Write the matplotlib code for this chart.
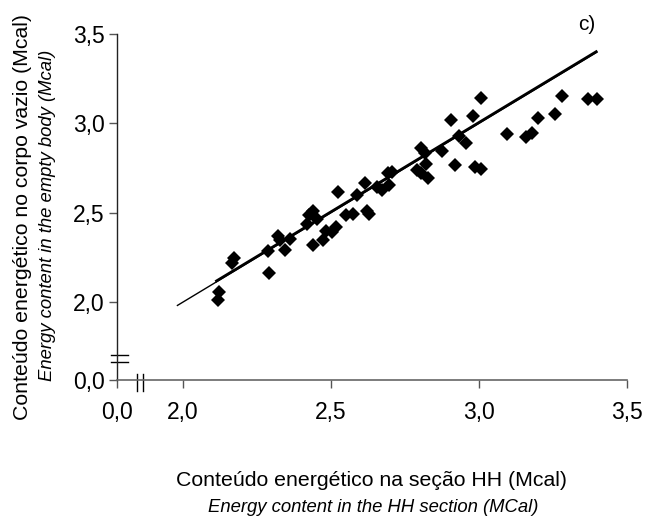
import matplotlib
matplotlib.use("Agg")
import matplotlib.pyplot as plt
from matplotlib.lines import Line2D

plt.rcParams['font.family'] = ['Liberation Sans', 'DejaVu Sans']

# data (Mcal)
hh_section = [2.119, 2.123, 2.166, 2.172, 2.290, 2.288, 2.323, 2.330, 2.344, 2.362,
              2.421, 2.425, 2.439, 2.439, 2.453, 2.474, 2.484, 2.505, 2.519, 2.523,
              2.551, 2.575, 2.589, 2.617, 2.621, 2.628, 2.655, 2.673, 2.697, 2.694,
              2.705, 2.792, 2.804, 2.806, 2.820, 2.818, 2.827, 2.877, 2.905, 2.919,
              2.933, 2.958, 2.979, 2.986, 3.006, 3.006, 3.094, 3.160, 3.178, 3.199,
              3.258, 3.279, 3.370, 3.400]
empty_body = [2.015, 2.056, 2.222, 2.245, 2.166, 2.288, 2.369, 2.350, 2.294, 2.354,
              2.439, 2.486, 2.508, 2.320, 2.467, 2.348, 2.401, 2.395, 2.420, 2.618,
              2.486, 2.495, 2.599, 2.665, 2.508, 2.495, 2.646, 2.627, 2.655, 2.721,
              2.731, 2.740, 2.862, 2.721, 2.772, 2.834, 2.697, 2.844, 3.017, 2.768,
              2.928, 2.891, 3.041, 2.755, 2.744, 3.141, 2.938, 2.923, 2.947, 3.028,
              3.051, 3.151, 3.139, 3.139]

identity_x = [1.98, 3.40]
identity_y = [1.98, 3.40]
fit_x = [2.11, 3.40]
fit_y = [2.115, 3.405]

x_ticks = [1.778, 2.0, 2.5, 3.0, 3.5]
x_ticklabels = ['0,0', '2,0', '2,5', '3,0', '3,5']
y_ticks = [1.565, 2.0, 2.5, 3.0, 3.5]
y_ticklabels = ['0,0', '2,0', '2,5', '3,0', '3,5']

fig = plt.figure(figsize=(6.5, 5.28), dpi=100)
ax = fig.add_axes([0.18, 0.2803, 0.7846, 0.6553])

ax.plot(identity_x, identity_y, color='black', lw=1.0, solid_capstyle='butt')
ax.plot(fit_x, fit_y, color='black', lw=2.0, solid_capstyle='butt')
ax.plot(hh_section, empty_body, linestyle='none', marker='D', markersize=7,
        color='black', markeredgewidth=0)

ax.set_xlim(1.778, 3.5)
ax.set_ylim(1.565, 3.5)
ax.set_xticks(x_ticks)
ax.set_xticklabels(x_ticklabels)
ax.set_yticks(y_ticks)
ax.set_yticklabels(y_ticklabels)

for s in ['top', 'right']:
    ax.spines[s].set_visible(False)
ax.spines['left'].set_color('#222222')
ax.spines['bottom'].set_color('#666666')
ax.spines['left'].set_linewidth(1.0)
ax.spines['bottom'].set_linewidth(1.2)
ax.tick_params(axis='x', direction='out', length=6, width=1.0, color='#555555',
               labelsize=16.5, pad=9)
ax.tick_params(axis='y', direction='out', length=6, width=1.0, color='#555555',
               labelsize=16.5, pad=3)

# axis break marks
tr = ax.transAxes
for yy in [0.072, 0.052]:
    ax.add_line(Line2D([-0.0118, 0.0216], [yy, yy], transform=tr, color='black',
                       lw=1.0, clip_on=False))
for xx in [0.0386, 0.0504]:
    ax.add_line(Line2D([xx, xx], [0.0173, -0.0318], transform=tr, color='black',
                       lw=1.0, clip_on=False))

# axis titles
fig.text(372 / 650, 1 - 480 / 528, 'Conteúdo energético na seção HH (Mcal)',
         ha='center', va='center', fontsize=15.3)
fig.text(373 / 650, 1 - 508 / 528, 'Energy content in the HH section (MCal)',
         ha='center', va='center', fontsize=13.3, style='italic')
fig.text(22.7 / 650, 1 - 217 / 528, 'Conteúdo energético no corpo vazio (Mcal)',
         ha='center', va='center', fontsize=15.3, rotation=90)
fig.text(47.5 / 650, 1 - 215 / 528, 'Energy content in the empty body (Mcal)',
         ha='center', va='center', fontsize=13.3, rotation=90, style='italic')
fig.text(587 / 650, 1 - 25 / 528, 'c)', ha='center', va='center', fontsize=15)

fig.savefig('out.png', dpi=100)
